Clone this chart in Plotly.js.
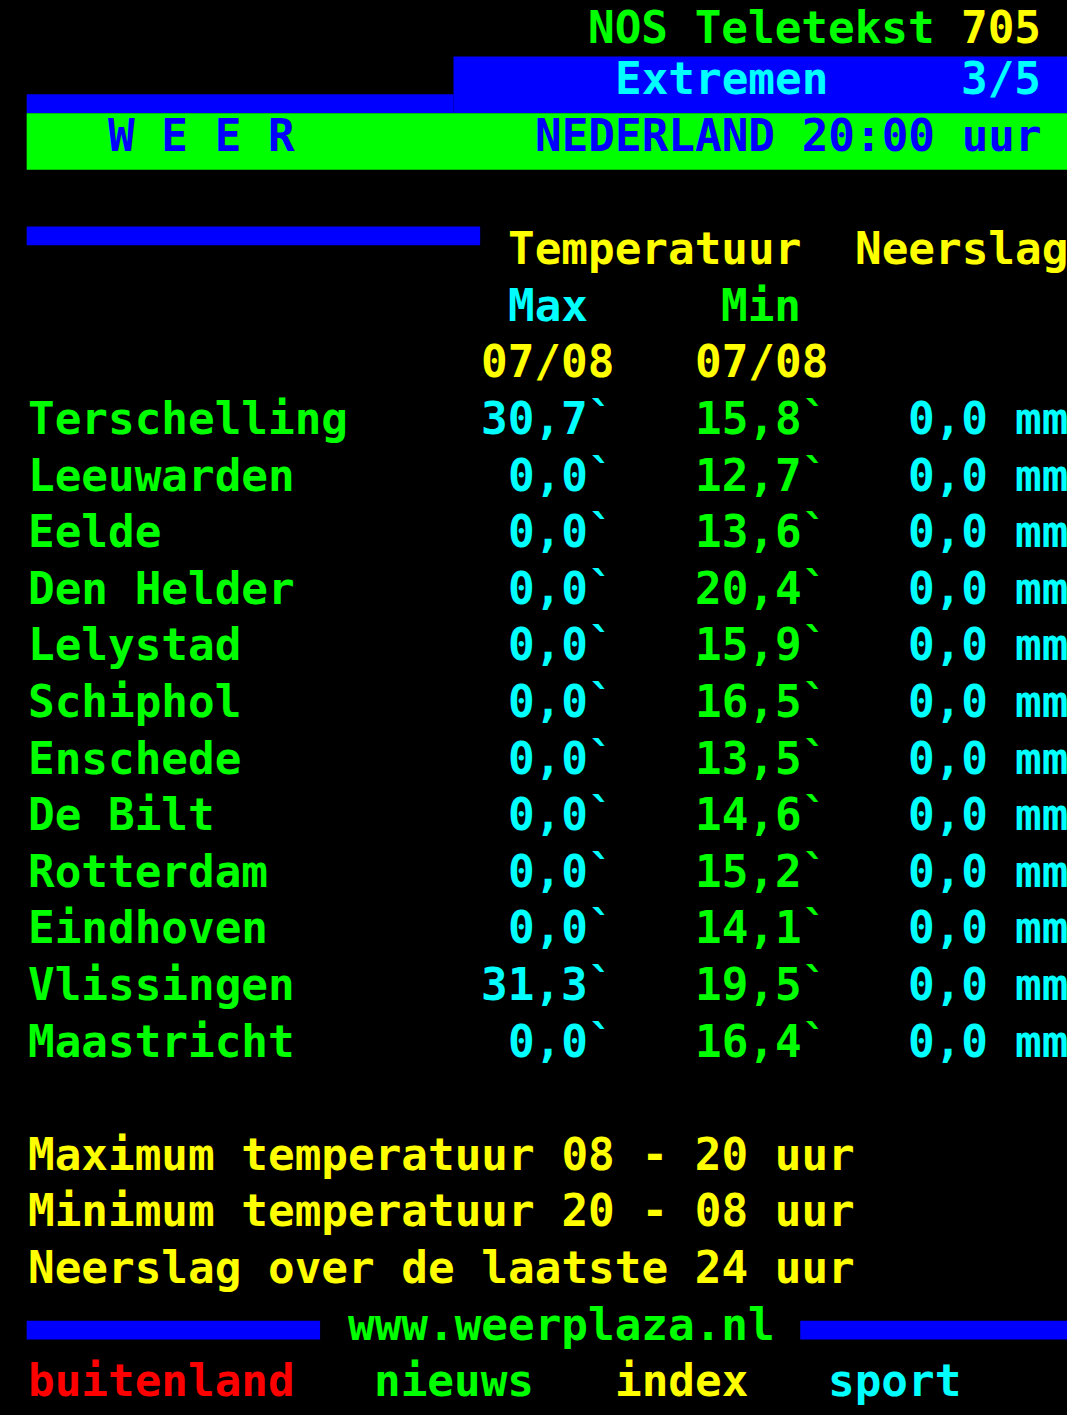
<!DOCTYPE html>
<html>
<head>
<meta charset="utf-8">
<script src="https://cdn.plot.ly/plotly-3.0.1.min.js"></script>
<style>
html,body{margin:0;padding:0;background:#000;overflow:hidden;}
#chart{width:1067px;height:1415px;}
</style>
</head>
<body>
<div id="chart"></div>
<script>
// ---- data ----
const stations = ["Terschelling","Leeuwarden","Eelde","Den Helder","Lelystad","Schiphol","Enschede","De Bilt","Rotterdam","Eindhoven","Vlissingen","Maastricht"];
const maxTemp  = [30.7, 0.0, 0.0, 0.0, 0.0, 0.0, 0.0, 0.0, 0.0, 0.0, 31.3, 0.0];
const minTemp  = [15.8, 12.7, 13.6, 20.4, 15.9, 16.5, 13.5, 14.6, 15.2, 14.1, 19.5, 16.4];
const rain     = [0.0, 0.0, 0.0, 0.0, 0.0, 0.0, 0.0, 0.0, 0.0, 0.0, 0.0, 0.0];
const pageNo   = "705";
const subPage  = "3/5";
const dateMax  = "07/08";
const dateMin  = "07/08";
const footNotes = ["Maximum temperatuur 08 - 20 uur","Minimum temperatuur 20 - 08 uur","Neerslag over de laatste 24 uur"];
const navLinks = ["buitenland","nieuws","index","sport"];

// ---- styling ----
const GREEN="#00ff00", YELLOW="#ffff00", CYAN="#00ffff", BLUE="#0000ff", RED="#ff0000";
const COLS=40, ROWS=25;
const FONT_FAMILY="DejaVu Sans Mono";
const FONT_SIZE=1067/COLS/0.602;
const YSHIFT=6;

const ann=[];
function txt(col,row,s,color){
  ann.push({x:col,y:row+0.5,xref:'x',yref:'y',text:s,showarrow:false,
    xanchor:'left',yanchor:'middle',yshift:(row===0?1:YSHIFT),borderpad:0,
    font:{family:FONT_FAMILY,size:FONT_SIZE,color:color,weight:'bold'}});
}
const shapes=[];
function box(c0,c1,r0,r1,color){
  shapes.push({type:'rect',xref:'x',yref:'y',x0:c0,x1:c1,y0:r0,y1:r1,
    fillcolor:color,line:{width:0},layer:'below'});
}
function fmt(v){return v.toFixed(1).replace('.',',');}

// header
txt(22,0,"NOS Teletekst",GREEN);
txt(36,0,pageNo,YELLOW);
box(17,40,1,2,BLUE);
box(1,17,1+2/3,2,BLUE);
txt(23,1,"Extremen",CYAN);
txt(36,1,subPage,CYAN);
box(1,40,2,3,GREEN);
txt(4,2,"W E E R",BLUE);
txt(20,2,"NEDERLAND 20:00 uur",BLUE);

// column heads
box(1,18,4,4+1/3,BLUE);
txt(19,4,"Temperatuur",YELLOW);
txt(32,4,"Neerslag",YELLOW);
txt(19,5,"Max",CYAN);
txt(27,5,"Min",GREEN);
txt(18,6,dateMax,YELLOW);
txt(26,6,dateMin,YELLOW);

// table
stations.forEach((s,i)=>{
  const r=7+i;
  txt(1,r,s,GREEN);
  const mx=fmt(maxTemp[i])+"`";
  txt(18+(5-mx.length),r,mx,CYAN);
  const mn=fmt(minTemp[i])+"`";
  txt(26+(5-mn.length),r,mn,GREEN);
  const rn=fmt(rain[i]);
  txt(34+(3-rn.length),r,rn,CYAN);
  txt(38,r,"mm",CYAN);
});

// footnotes
footNotes.forEach((s,i)=>txt(1,20+i,s,YELLOW));
box(1,12,23+1/3,23+2/3,BLUE);
box(30,40,23+1/3,23+2/3,BLUE);
txt(13,23,"www.weerplaza.nl",GREEN);
const navCols=[1,14,23,31], navColors=[RED,GREEN,YELLOW,CYAN];
navLinks.forEach((s,i)=>txt(navCols[i],24,s,navColors[i]));

const layout={
  width:1067,height:1415,
  margin:{l:0,r:0,t:0,b:0,pad:0},
  paper_bgcolor:'#000',plot_bgcolor:'#000',
  showlegend:false,
  xaxis:{range:[0,COLS],visible:false,fixedrange:true},
  yaxis:{range:[ROWS,0],visible:false,fixedrange:true},
  shapes:shapes,
  annotations:ann
};
Plotly.newPlot('chart',[],layout,{staticPlot:true,displayModeBar:false});
</script>
</body>
</html>
